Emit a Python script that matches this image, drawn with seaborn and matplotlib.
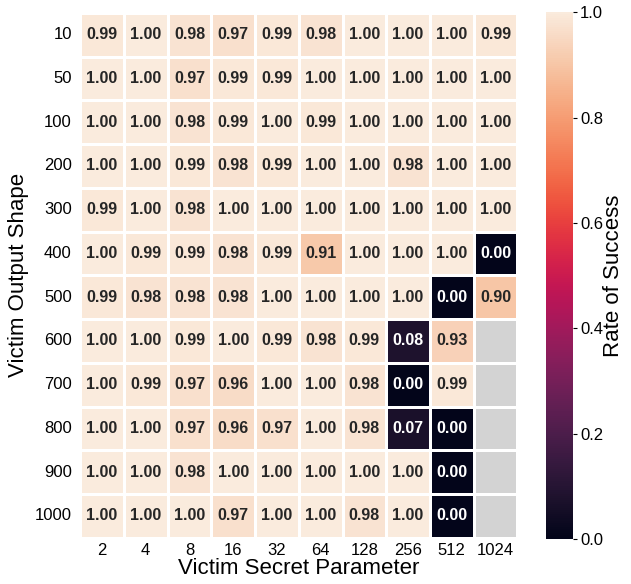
import numpy as np
import pandas as pd
import seaborn as sns
import matplotlib.pyplot as plt

# Data
secret_params = [2, 4, 8, 16, 32, 64, 128, 256, 512, 1024]
output_shapes = [10, 50, 100, 200, 300, 400, 500, 600, 700, 800, 900, 1000]
nan = np.nan
success = [
    [0.99, 1.00, 0.98, 0.97, 0.99, 0.98, 1.00, 1.00, 1.00, 0.99],
    [1.00, 1.00, 0.97, 0.99, 0.99, 1.00, 1.00, 1.00, 1.00, 1.00],
    [1.00, 1.00, 0.98, 0.99, 1.00, 0.99, 1.00, 1.00, 1.00, 1.00],
    [1.00, 1.00, 0.99, 0.98, 0.99, 1.00, 1.00, 0.98, 1.00, 1.00],
    [0.99, 1.00, 0.98, 1.00, 1.00, 1.00, 1.00, 1.00, 1.00, 1.00],
    [1.00, 0.99, 0.99, 0.98, 0.99, 0.91, 1.00, 1.00, 1.00, 0.00],
    [0.99, 0.98, 0.98, 0.98, 1.00, 1.00, 1.00, 1.00, 0.00, 0.90],
    [1.00, 1.00, 0.99, 1.00, 0.99, 0.98, 0.99, 0.08, 0.93, nan],
    [1.00, 0.99, 0.97, 0.96, 1.00, 1.00, 0.98, 0.00, 0.99, nan],
    [1.00, 1.00, 0.97, 0.96, 0.97, 1.00, 0.98, 0.07, 0.00, nan],
    [1.00, 1.00, 0.98, 1.00, 1.00, 1.00, 1.00, 1.00, 0.00, nan],
    [1.00, 1.00, 1.00, 0.97, 1.00, 1.00, 0.98, 1.00, 0.00, nan],
]

df = pd.DataFrame(success, index=output_shapes, columns=secret_params)

plt.rcParams['font.family'] = ['Liberation Sans', 'DejaVu Sans']

fig = plt.figure(figsize=(6.31, 5.84), dpi=100)
ax = fig.add_axes([0.127, 0.079, 0.693, 0.899])
cax = fig.add_axes([0.865, 0.077, 0.043, 0.902])

ax.set_facecolor('lightgray')
sns.heatmap(df, ax=ax, cbar_ax=cax, cmap='rocket', vmin=0, vmax=1,
            annot=True, fmt='.2f', linewidths=1, linecolor='white',
            annot_kws={'fontsize': 11.5, 'fontweight': 'bold'},
            cbar_kws={'label': 'Rate of Success'})

ax.set_xlabel('Victim Secret Parameter', fontsize=16, labelpad=0)
ax.set_ylabel('Victim Output Shape', fontsize=16, labelpad=4)
ax.tick_params(axis='x', labelsize=12, length=0, pad=4)
ax.tick_params(axis='y', labelsize=12, length=0, pad=6, rotation=0)
cax.tick_params(labelsize=12, length=3, pad=2)
cax.set_ylabel('Rate of Success', fontsize=16, labelpad=0)

fig.savefig('out.png', dpi=100)
